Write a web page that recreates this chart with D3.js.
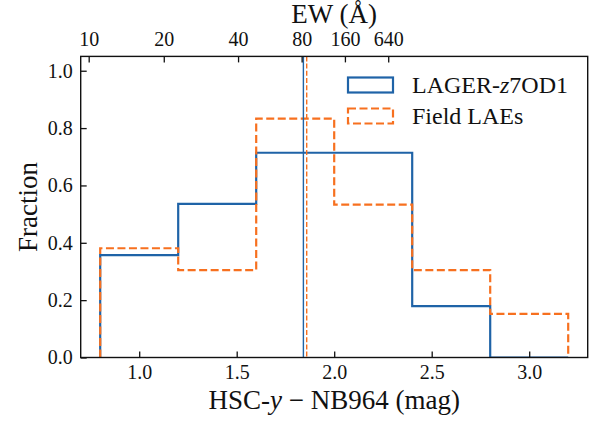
<!DOCTYPE html>
<html>
<head>
<meta charset="utf-8">
<script src="https://cdn.jsdelivr.net/npm/d3@7"></script>
<style>
  body { margin: 0; background: #fff; }
  svg text { font-family: "Liberation Serif", "DejaVu Serif", serif; fill: #111; }
</style>
</head>
<body>
<svg id="chart" width="597" height="424"></svg>
<script>
// histogram bins (HSC-y - NB964 colour, mag)
const binEdges = [0.8, 1.2, 1.6, 2.0, 2.4, 2.8, 3.2];
const lagerFrac = [0.357, 0.536, 0.714, 0.714, 0.179, 0.0];
const fieldFrac = [0.381, 0.305, 0.833, 0.533, 0.305, 0.152];

// median colours
const lagerMedian = 1.842;
const fieldMedian = 1.859;

// axis ticks
const xTicks = [1.0, 1.5, 2.0, 2.5, 3.0];
const yTicks = [0.0, 0.2, 0.4, 0.6, 0.8, 1.0];
// top axis: EW labels and the colour where each sits
const ewLabels = ['10', '20', '40', '80', '160', '640'];
const ewColour = [0.741, 1.126, 1.507, 1.833, 2.055, 2.277];

const blue = '#1f63a7';
const orange = '#f7701f';

const svg = d3.select('#chart');
const mLeft = 80.7, mRight = 587.7, mTop = 56.4, mBottom = 357.5;

const x = d3.scaleLinear().domain([0.7, 3.3]).range([mLeft, mRight]);
const y = d3.scaleLinear().domain([0, 1.05]).range([mBottom, mTop]);

svg.append('defs').append('clipPath').attr('id', 'clip')
  .append('rect')
  .attr('x', mLeft).attr('y', mTop)
  .attr('width', mRight - mLeft).attr('height', mBottom - mTop);

const plot = svg.append('g').attr('clip-path', 'url(#clip)');

// step outline like matplotlib histtype='step'
function stepPoints(vals) {
  const pts = [[binEdges[0], 0]];
  vals.forEach((v, i) => {
    pts.push([binEdges[i], v]);
    pts.push([binEdges[i + 1], v]);
  });
  pts.push([binEdges[binEdges.length - 1], 0]);
  return pts;
}

const line = d3.line().x(d => x(d[0])).y(d => y(d[1]));

plot.append('path')
  .attr('d', line(stepPoints(lagerFrac)))
  .attr('fill', 'none')
  .attr('stroke', blue)
  .attr('stroke-width', 2.2)
  .attr('stroke-linejoin', 'miter');

plot.append('path')
  .attr('d', line(stepPoints(fieldFrac)))
  .attr('fill', 'none')
  .attr('stroke', orange)
  .attr('stroke-width', 2.2)
  .attr('stroke-dasharray', '8,3.5');

// median lines
plot.append('line')
  .attr('x1', x(lagerMedian)).attr('x2', x(lagerMedian))
  .attr('y1', mTop).attr('y2', mBottom)
  .attr('stroke', blue).attr('stroke-width', 1.4);

plot.append('line')
  .attr('x1', x(fieldMedian)).attr('x2', x(fieldMedian))
  .attr('y1', mTop).attr('y2', mBottom)
  .attr('stroke', orange).attr('stroke-width', 1.4)
  .attr('stroke-dasharray', '5,2.2');

// axes (ticks point inward)
const tickLen = 6;
const xAxis = svg.append('g')
  .attr('transform', `translate(0,${mBottom})`)
  .call(d3.axisBottom(x).tickValues(xTicks).tickSizeInner(-tickLen).tickSizeOuter(0)
    .tickPadding(7).tickFormat(d3.format('.1f')));

const yAxis = svg.append('g')
  .attr('transform', `translate(${mLeft},0)`)
  .call(d3.axisLeft(y).tickValues(yTicks).tickSizeInner(-tickLen).tickSizeOuter(0)
    .tickPadding(8).tickFormat(d3.format('.1f')));

const ewScale = d3.scaleOrdinal().domain(ewLabels).range(ewColour.map(c => x(c)));
const topAxis = svg.append('g')
  .attr('transform', `translate(0,${mTop})`)
  .call(d3.axisTop(ewScale).tickSizeInner(-tickLen).tickSizeOuter(0).tickPadding(10));

[xAxis, yAxis, topAxis].forEach(a => {
  a.select('.domain').remove();
  a.selectAll('.tick line').attr('stroke', '#111').attr('stroke-width', 1.3);
  a.selectAll('.tick text').attr('font-size', 20).attr('fill', '#111')
    .style('font-family', '"Liberation Serif", serif');
});

// frame
svg.append('rect')
  .attr('x', mLeft).attr('y', mTop)
  .attr('width', mRight - mLeft).attr('height', mBottom - mTop)
  .attr('fill', 'none').attr('stroke', '#111').attr('stroke-width', 1.4);

// axis labels
const xl = svg.append('text')
  .attr('x', (mLeft + mRight) / 2).attr('y', 409)
  .attr('text-anchor', 'middle').attr('font-size', 27);
xl.append('tspan').text('HSC-');
xl.append('tspan').attr('font-style', 'italic').text('y');
xl.append('tspan').text(' \u2212 NB964 (mag)');

svg.append('text')
  .attr('transform', `translate(37,${(mTop + mBottom) / 2}) rotate(-90)`)
  .attr('text-anchor', 'middle').attr('font-size', 27)
  .text('Fraction');

svg.append('text')
  .attr('x', (mLeft + mRight) / 2).attr('y', 23)
  .attr('text-anchor', 'middle').attr('font-size', 27)
  .text('EW (\u00C5)');

// legend
const legendItems = [
  { label: ['LAGER-', 'z', '7OD1'], color: blue, dash: null },
  { label: ['Field LAEs', '', ''], color: orange, dash: '8,3.5' }
];
const lg = svg.append('g');
legendItems.forEach((item, i) => {
  const cy = 85 + i * 31;
  lg.append('rect')
    .attr('x', 348).attr('y', cy - 7.5)
    .attr('width', 45).attr('height', 15)
    .attr('fill', 'none').attr('stroke', item.color).attr('stroke-width', 2.2)
    .attr('stroke-dasharray', item.dash);
  const t = lg.append('text')
    .attr('x', 412).attr('y', cy + 8)
    .attr('font-size', 24);
  t.append('tspan').text(item.label[0]);
  if (item.label[1]) t.append('tspan').attr('font-style', 'italic').text(item.label[1]);
  if (item.label[2]) t.append('tspan').text(item.label[2]);
});
</script>
</body>
</html>
